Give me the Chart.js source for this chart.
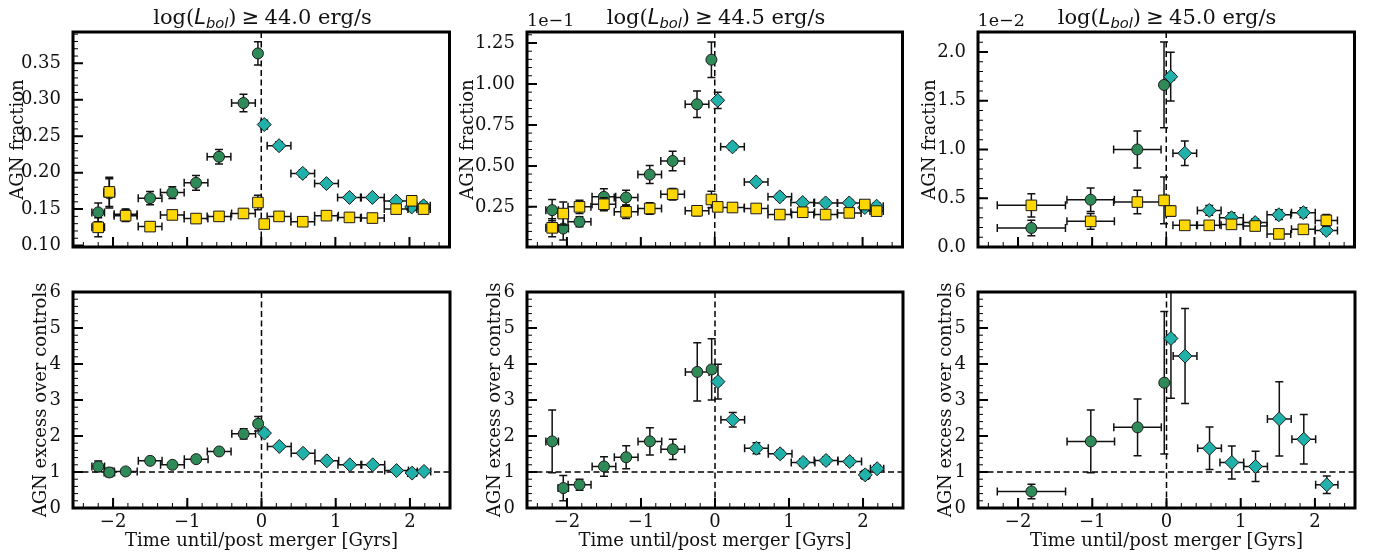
<!DOCTYPE html>
<html>
<head>
<meta charset="utf-8">
<script src="https://cdn.jsdelivr.net/npm/chart.js@4.4.1/dist/chart.umd.min.js"></script>
<style>
  body { margin: 0; background: #fff; width: 1384px; height: 557px; position: relative; overflow: hidden; font-family: "DejaVu Serif", serif; color: #111; }
  canvas { position: absolute; }
  .ttl { position: absolute; top: 17px; font-size: 21px; white-space: nowrap; transform: translate(-50%, -50%); line-height: 1; }
  .ttl .m { font-family: "DejaVu Sans", sans-serif; }
  .ttl .ge { font-family: "DejaVu Sans", sans-serif; margin: 0 0.25em; }
  .ttl sub { font-size: 0.7em; vertical-align: -0.3em; line-height: 0; }
  .off { position: absolute; top: 21px; font-size: 17.5px; transform: translateY(-50%); line-height: 1; }
</style>
</head>
<body>
<script>
"use strict"

// ---- time bins (Gyr): centres and half widths ----
const tPre = [-2.20, -2.05, -1.83, -1.50, -1.20, -0.88, -0.57, -0.24, -0.045]
const dtPre = [0.085, 0.07, 0.155, 0.16, 0.16, 0.16, 0.16, 0.16, 0.04]
const tPost = [0.04, 0.24, 0.56, 0.88, 1.19, 1.50, 1.82, 2.03, 2.19]
const dtPost = [0.04, 0.16, 0.16, 0.16, 0.16, 0.16, 0.16, 0.06, 0.09]
// wider bins used for log(Lbol) >= 45.0
const tPre45 = [-1.82, -1.02, -0.39, -0.03]
const dtPre45 = [0.46, 0.32, 0.32, 0.03]
const tPost45 = [0.06, 0.25, 0.58, 0.88, 1.20, 1.52, 1.85, 2.16]
const dtPost45 = [0.05, 0.16, 0.16, 0.16, 0.16, 0.16, 0.16, 0.15]

// ---- AGN fraction, log(Lbol) >= 44.0 ----
const frac44Pre = [0.1455, 0.1715, 0.143, 0.165, 0.1727, 0.186, 0.2218, 0.2955, 0.3636]
const frac44PreErr = [0.013, 0.02, 0.007, 0.009, 0.008, 0.01, 0.01, 0.012, 0.016]
const frac44Post = [0.266, 0.237, 0.199, 0.185, 0.166, 0.166, 0.161, 0.153, 0.1545]
const frac44PostErr = [0.006, 0.005, 0.005, 0.004, 0.004, 0.004, 0.004, 0.005, 0.005]
const frac44Ctrl = [0.125, 0.1736, 0.141, 0.126, 0.142, 0.137, 0.14, 0.144, 0.159,
                    0.1295, 0.14, 0.1327, 0.141, 0.1386, 0.1377, 0.15, 0.1614, 0.15]
const frac44CtrlErr = [0.013, 0.02, 0.008, 0.006, 0.006, 0.006, 0.006, 0.006, 0.01,
                       0.005, 0.004, 0.004, 0.004, 0.004, 0.004, 0.005, 0.005, 0.005]

// ---- AGN fraction (x1e-1), log(Lbol) >= 44.5 ----
const frac445Pre = [0.230, 0.118, 0.159, 0.311, 0.307, 0.447, 0.530, 0.876, 1.148]
const frac445PreErr = [0.065, 0.07, 0.03, 0.05, 0.045, 0.055, 0.06, 0.081, 0.108]
const frac445Post = [0.900, 0.616, 0.402, 0.311, 0.276, 0.274, 0.274, 0.246, 0.254]
const frac445PostErr = [0.05, 0.02, 0.02, 0.02, 0.02, 0.02, 0.02, 0.02, 0.02]
const frac445Ctrl = [0.122, 0.209, 0.25, 0.266, 0.2195, 0.240, 0.327, 0.226, 0.295,
                     0.25, 0.246, 0.240, 0.203, 0.217, 0.203, 0.213, 0.264, 0.224]
const frac445CtrlErr = [0.055, 0.07, 0.04, 0.04, 0.04, 0.035, 0.035, 0.03, 0.05,
                        0.015, 0.01, 0.01, 0.01, 0.01, 0.01, 0.01, 0.01, 0.01]

// ---- AGN fraction (x1e-2), log(Lbol) >= 45.0 ----
const frac45Pre = [0.195, 0.485, 1.0, 1.662]
const frac45PreErr = [0.08, 0.12, 0.19, 0.44]
const frac45Post = [1.747, 0.962, 0.375, 0.30, 0.25, 0.331, 0.352, 0.17]
const frac45PostErr = [0.25, 0.125, 0.05, 0.05, 0.04, 0.05, 0.05, 0.04]
const frac45Ctrl = [0.427, 0.263, 0.461, 0.478, 0.369, 0.222, 0.222, 0.232, 0.215, 0.134, 0.181, 0.273]
const frac45CtrlErr = [0.12, 0.08, 0.12, 0.24, 0.05, 0.03, 0.03, 0.03, 0.03, 0.03, 0.03, 0.06]

// ---- AGN excess over controls ----
const exc44Pre = [1.154, 0.988, 1.016, 1.31, 1.20, 1.357, 1.57, 2.06, 2.34]
const exc44PreErr = [0.15, 0.12, 0.05, 0.08, 0.06, 0.08, 0.08, 0.14, 0.2]
const exc44Post = [2.08, 1.71, 1.52, 1.31, 1.20, 1.20, 1.04, 0.97, 1.016]
const exc44PostErr = [0.1, 0.07, 0.05, 0.05, 0.05, 0.05, 0.05, 0.05, 0.05]
const exc445Pre = [1.85, 0.554, 0.646, 1.154, 1.41, 1.85, 1.63, 3.78, 3.85]
const exc445PreErr = [0.87, 0.35, 0.15, 0.27, 0.32, 0.38, 0.28, 0.81, 0.85]
const exc445Post = [3.51, 2.45, 1.66, 1.505, 1.265, 1.32, 1.29, 0.92, 1.09]
const exc445PostErr = [0.48, 0.2, 0.15, 0.1, 0.1, 0.1, 0.1, 0.12, 0.1]
const exc45Pre = [0.46, 1.85, 2.24, 3.48]
const exc45PreErr = [0.2, 0.87, 0.79, 1.98]
const exc45Post = [4.71, 4.22, 1.66, 1.265, 1.154, 2.475, 1.91, 0.646]
const exc45PostErr = [1.66, 1.32, 0.59, 0.46, 0.42, 1.03, 0.69, 0.24]

// ---- axes ----
const xTicks = [-2, -1, 0, 1, 2]
const fracTicks44 = [0.10, 0.15, 0.20, 0.25, 0.30, 0.35]
const fracTicks445 = [0.25, 0.50, 0.75, 1.00, 1.25]
const fracTicks45 = [0.0, 0.5, 1.0, 1.5, 2.0]
const excessTicks = [0, 1, 2, 3, 4, 5, 6]
const titleLums = ["44.0", "44.5", "45.0"]
const offsetTexts = ["", "1e\u22121", "1e\u22122"]
const mergerTime = 0
const unityExcess = 1

const tickFont = {family: "DejaVu Serif", size: 18}
const labelFont = {family: "DejaVu Serif", size: 18}

const styles = {
  pre:  {shape: "circle",  r: 5.5, fill: "#2e8b57", order: 2},
  post: {shape: "rectRot", r: 7,   fill: "#20b2aa", order: 1},
  ctrl: {shape: "rect",    r: 7.5, fill: "#ffd700", order: 0}
}

function series(kind, xs, xe, ys, ye) {
  let st = styles[kind]
  return {
    data: xs.map((v, i) => ({x: v, y: ys[i]})),
    xErr: xe, yErr: ye,
    pointStyle: st.shape, pointRadius: st.r, pointHoverRadius: st.r,
    backgroundColor: st.fill, borderColor: "#1a1a1a", borderWidth: 1,
    order: st.order, showLine: false
  }
}

function minorValues(min, max, step) {
  let out = []
  for (let k = Math.ceil(min / step - 1e-9); k <= Math.floor(max / step + 1e-9); k++) out.push(k * step)
  return out
}

// error bars, dashed guide lines, frame and inward ticks
const panelDecor = {
  id: "panelDecor",
  beforeDatasetsDraw(chart, args, o) {
    let {ctx, chartArea: a, scales: {x, y}} = chart
    ctx.save()
    ctx.beginPath(); ctx.rect(a.left, a.top, a.width, a.height); ctx.clip()
    ctx.setLineDash([6, 3.5]); ctx.lineWidth = 1.5; ctx.strokeStyle = "#000"
    let x0 = x.getPixelForValue(mergerTime)
    ctx.beginPath(); ctx.moveTo(x0, a.top); ctx.lineTo(x0, a.bottom); ctx.stroke()
    if (o.unity) {
      let y1 = y.getPixelForValue(unityExcess)
      ctx.beginPath(); ctx.moveTo(a.left, y1); ctx.lineTo(a.right, y1); ctx.stroke()
    }
    ctx.restore()
  },
  beforeDatasetDraw(chart, args) {
    let ds = chart.data.datasets[args.index]
    if (!ds.yErr) return
    let {ctx, chartArea: a, scales: {x, y}} = chart
    let cap = 4
    ctx.save()
    ctx.beginPath(); ctx.rect(a.left, a.top, a.width, a.height); ctx.clip()
    ctx.strokeStyle = "#111"; ctx.lineWidth = 1.5
    ds.data.forEach((p, i) => {
      let px = x.getPixelForValue(p.x), py = y.getPixelForValue(p.y)
      let xl = x.getPixelForValue(p.x - ds.xErr[i]), xr = x.getPixelForValue(p.x + ds.xErr[i])
      let yb = y.getPixelForValue(p.y - ds.yErr[i]), yt = y.getPixelForValue(p.y + ds.yErr[i])
      ctx.beginPath()
      ctx.moveTo(xl, py); ctx.lineTo(xr, py)
      ctx.moveTo(xl, py - cap); ctx.lineTo(xl, py + cap)
      ctx.moveTo(xr, py - cap); ctx.lineTo(xr, py + cap)
      ctx.moveTo(px, yb); ctx.lineTo(px, yt)
      ctx.moveTo(px - cap, yb); ctx.lineTo(px + cap, yb)
      ctx.moveTo(px - cap, yt); ctx.lineTo(px + cap, yt)
      ctx.stroke()
    })
    ctx.restore()
  },
  afterDraw(chart, args, o) {
    let {ctx, chartArea: a, scales: {x, y}} = chart
    ctx.save()
    ctx.strokeStyle = "#000"
    ctx.lineWidth = 1
    ctx.beginPath()
    minorValues(x.min, x.max, o.xMinor).forEach(v => {
      let p = x.getPixelForValue(v); ctx.moveTo(p, a.bottom); ctx.lineTo(p, a.bottom - 5)
    })
    minorValues(y.min, y.max, o.yMinor).forEach(v => {
      let p = y.getPixelForValue(v); ctx.moveTo(a.left, p); ctx.lineTo(a.left + 5, p)
    })
    ctx.stroke()
    ctx.lineWidth = 2
    ctx.beginPath()
    x.ticks.forEach(t => {
      let p = x.getPixelForValue(t.value); ctx.moveTo(p, a.bottom); ctx.lineTo(p, a.bottom - 10)
    })
    y.ticks.forEach(t => {
      let p = y.getPixelForValue(t.value); ctx.moveTo(a.left, p); ctx.lineTo(a.left + 10, p)
    })
    ctx.stroke()
    ctx.lineWidth = 3
    ctx.strokeRect(a.left, a.top, a.width, a.height)
    ctx.restore()
  }
}

const minus = v => (v < 0 ? "\u2212" + Math.abs(v) : String(v))

function makePanel(p) {
  let yw = 80, padTop = 16, padRight = 6
  let xh = p.bottomRow ? 49 : 16
  let cv = document.createElement("canvas")
  cv.width = (p.box.r - p.box.l) + yw + padRight
  cv.height = (p.box.b - p.box.t) + padTop + xh
  cv.style.left = (p.box.l - yw) + "px"
  cv.style.top = (p.box.t - padTop) + "px"
  document.body.appendChild(cv)

  let lh = labelFont.size * 1.2
  new Chart(cv, {
    type: "scatter",
    data: {datasets: p.datasets},
    options: {
      responsive: false, animation: false, events: [], devicePixelRatio: 1,
      layout: {padding: {left: 0, right: padRight, top: padTop, bottom: 0}},
      plugins: {
        legend: {display: false}, tooltip: {enabled: false},
        panelDecor: {unity: p.bottomRow, xMinor: 0.2, yMinor: p.yMinor}
      },
      scales: {
        x: {
          type: "linear", min: -2.54, max: 2.54,
          afterBuildTicks: s => { s.ticks = xTicks.map(v => ({value: v})) },
          afterFit: s => { s.height = xh },
          grid: {display: false}, border: {display: false},
          ticks: {display: p.bottomRow, font: tickFont, color: "#111", padding: -4,
                  autoSkip: false, maxRotation: 0, callback: v => minus(v)},
          title: {display: p.bottomRow, text: "Time until/post merger [Gyrs]", font: labelFont,
                  color: "#111", padding: {top: 0, bottom: 5}}
        },
        y: {
          type: "linear", min: p.yMin, max: p.yMax,
          afterBuildTicks: s => { s.ticks = p.yTicks.map(v => ({value: v})) },
          afterFit: s => { s.width = yw },
          grid: {display: false}, border: {display: false},
          ticks: {font: tickFont, color: "#111", padding: 4, autoSkip: false,
                  callback: v => v.toFixed(p.digits)},
          title: {display: true, text: p.yLabel, font: labelFont, color: "#111",
                  padding: {top: p.titleX - (p.box.l - yw) - lh / 2, bottom: 0}}
        }
      }
    },
    plugins: [panelDecor]
  })
}

const cols = [{l: 73, r: 452}, {l: 527, r: 905}, {l: 977.5, r: 1356.5}]
const rows = [{t: 32, b: 247}, {t: 292, b: 508.5}]

const ctrlT = tPre.concat(tPost), ctrlDt = dtPre.concat(dtPost)
const ctrlT45 = tPre45.concat(tPost45), ctrlDt45 = dtPre45.concat(dtPost45)

const panels = [
  {col: 0, row: 0, yMin: 0.098, yMax: 0.393, yTicks: fracTicks44, yMinor: 0.01, digits: 2,
   yLabel: "AGN fraction", titleX: 18,
   datasets: [series("pre", tPre, dtPre, frac44Pre, frac44PreErr),
              series("post", tPost, dtPost, frac44Post, frac44PostErr),
              series("ctrl", ctrlT, ctrlDt, frac44Ctrl, frac44CtrlErr)]},
  {col: 1, row: 0, yMin: 0.005, yMax: 1.317, yTicks: fracTicks445, yMinor: 0.05, digits: 2,
   yLabel: "AGN fraction", titleX: 468,
   datasets: [series("pre", tPre, dtPre, frac445Pre, frac445PreErr),
              series("post", tPost, dtPost, frac445Post, frac445PostErr),
              series("ctrl", ctrlT, ctrlDt, frac445Ctrl, frac445CtrlErr)]},
  {col: 2, row: 0, yMin: 0, yMax: 2.205, yTicks: fracTicks45, yMinor: 0.1, digits: 1,
   yLabel: "AGN fraction", titleX: 930,
   datasets: [series("pre", tPre45, dtPre45, frac45Pre, frac45PreErr),
              series("post", tPost45, dtPost45, frac45Post, frac45PostErr),
              series("ctrl", ctrlT45, ctrlDt45, frac45Ctrl, frac45CtrlErr)]},
  {col: 0, row: 1, yMin: 0, yMax: 6, yTicks: excessTicks, yMinor: 0.2, digits: 0,
   yLabel: "AGN excess over controls", titleX: 41,
   datasets: [series("pre", tPre, dtPre, exc44Pre, exc44PreErr),
              series("post", tPost, dtPost, exc44Post, exc44PostErr)]},
  {col: 1, row: 1, yMin: 0, yMax: 6, yTicks: excessTicks, yMinor: 0.2, digits: 0,
   yLabel: "AGN excess over controls", titleX: 495,
   datasets: [series("pre", tPre, dtPre, exc445Pre, exc445PreErr),
              series("post", tPost, dtPost, exc445Post, exc445PostErr)]},
  {col: 2, row: 1, yMin: 0, yMax: 6, yTicks: excessTicks, yMinor: 0.2, digits: 0,
   yLabel: "AGN excess over controls", titleX: 946,
   datasets: [series("pre", tPre45, dtPre45, exc45Pre, exc45PreErr),
              series("post", tPost45, dtPost45, exc45Post, exc45PostErr)]}
]

panels.forEach(p => {
  let c = cols[p.col], r = rows[p.row]
  p.box = {l: c.l, r: c.r, t: r.t, b: r.b}
  p.bottomRow = p.row === 1
  makePanel(p)
})

// titles and offset labels above the top row
cols.forEach((c, i) => {
  let t = document.createElement("div")
  t.className = "ttl"
  t.style.left = ((c.l + c.r) / 2) + "px"
  t.innerHTML = 'log(<i class="m">L<sub>bol</sub></i>)<span class="ge">\u2265</span>' + titleLums[i] + " erg/s"
  document.body.appendChild(t)
  if (offsetTexts[i]) {
    let o = document.createElement("div")
    o.className = "off"
    o.style.left = c.l + "px"
    o.textContent = offsetTexts[i]
    document.body.appendChild(o)
  }
})
</script>
</body>
</html>
